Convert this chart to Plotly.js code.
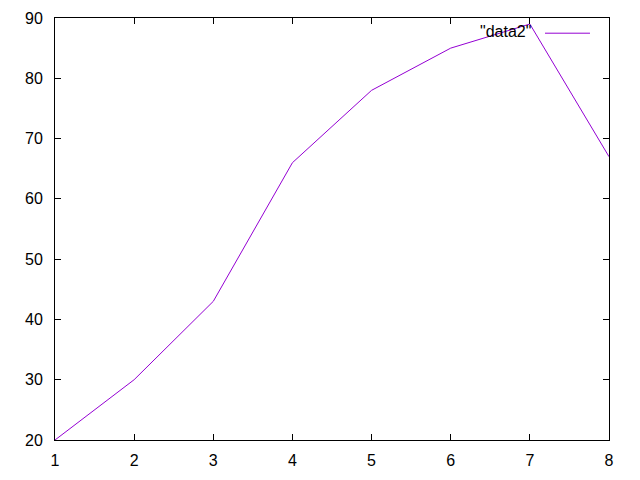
<!DOCTYPE html>
<html>
<head>
<meta charset="utf-8">
<script src="https://cdn.plot.ly/plotly-3.0.1.min.js"></script>
<style>html,body{margin:0;padding:0;background:#fff;}#chart{width:640px;height:480px;}</style>
</head>
<body>
<div id="chart"></div>
<script>
const xValues = [1, 2, 3, 4, 5, 6, 7, 8];
const yValues = [20, 30, 43, 66, 78, 85, 89, 67];
const seriesName = '"data2"';
const xTicks = [1, 2, 3, 4, 5, 6, 7, 8];
const yTicks = [20, 30, 40, 50, 60, 70, 80, 90];

const lineColor = '#9400d3';
const font = {family: 'Liberation Sans, Arial, sans-serif', size: 16, color: '#000'};

const axisCommon = {
  showgrid: false, zeroline: false, showline: true, linecolor: '#000', linewidth: 1,
  mirror: 'ticks', ticks: 'inside', ticklen: 6, tickcolor: '#000', tickwidth: 1,
  tickfont: font
};

Plotly.newPlot('chart', [{
  x: xValues, y: yValues, type: 'scatter', mode: 'lines',
  line: {color: lineColor, width: 1}, name: seriesName, showlegend: false
}], {
  width: 640, height: 480,
  margin: {l: 55, r: 31, t: 18, b: 40},
  paper_bgcolor: '#fff', plot_bgcolor: '#fff',
  font: font,
  xaxis: Object.assign({}, axisCommon, {range: [1, 8], tickvals: xTicks, ticklabelstandoff: 6}),
  yaxis: Object.assign({}, axisCommon, {range: [20, 90], tickvals: yTicks, ticklabelstandoff: 8}),
  annotations: [{
    xref: 'paper', yref: 'paper', x: 0.862, y: 0.967, xanchor: 'right', yanchor: 'middle',
    text: seriesName, showarrow: false, font: font
  }],
  shapes: [{
    type: 'line', xref: 'paper', yref: 'paper', x0: 0.8845, x1: 0.9657, y0: 0.964, y1: 0.964,
    line: {color: lineColor, width: 1}
  }]
}, {staticPlot: true});
</script>
</body>
</html>
